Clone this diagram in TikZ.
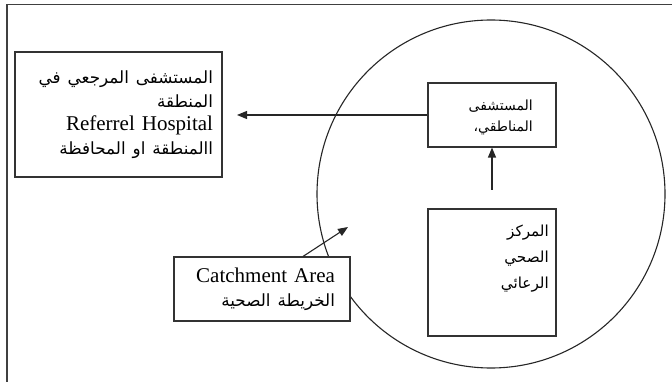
\documentclass[tikz,border=0pt]{standalone}
\usepackage{fontspec}
\setmainfont{Liberation Serif}
\newfontfamily\arabicfont[Script=Arabic,Scale=0.8]{DejaVu Sans}
\TeXXeTstate=1
\usetikzlibrary{arrows.meta}
\newcommand{\ar}[1]{{\arabicfont\beginR #1\endR}}

\begin{document}
\begin{tikzpicture}[x=1pt,y=-1pt,
	box/.style={draw=black!80,line width=1.1pt,fill=white,inner ysep=0pt,align=right},
	lbl/.style={anchor=north east,align=right,inner sep=0pt},
	arr/.style={draw=black!85,line width=1.1pt,-{Triangle[length=10pt,width=8pt]}}]
	\clip (0,0) rectangle (672,382);
	\draw[black!75,line width=1.2pt] (7,4.5) rectangle (700,400);
	\draw[black!85,line width=1.1pt] (491,194) circle[radius=174pt];

	% boxes
	\node[box,minimum width=207pt,minimum height=125pt,text width=189pt,inner xsep=9pt,font=\fontsize{21}{23.5}\selectfont] (referral) at (118.5,114.5)
		{\ar{المستشفى المرجعي في}\\ \ar{المنطقة}\\ Referrel Hospital\\ \ar{االمنطقة او المحافظة}};
	\node[box,minimum width=128pt,minimum height=64pt] (manatiqi) at (492,115) {};
	\node[lbl,font=\fontsize{17.5}{21}\selectfont] (manatiqitxt) at (533,100)
		{\ar{المستشفى}\\ \ar{المناطقي،}};
	\node[box,minimum width=128pt,minimum height=127pt] (markaz) at (492,272.5) {};
	\node[lbl,font=\fontsize{19}{26}\selectfont] (markaztxt) at (549,225)
		{\ar{المركز}\\ \ar{الصحي}\\ \ar{الرعائي}};
	\node[box,minimum width=176pt,minimum height=64pt,text width=146pt,inner xsep=15pt,font=\fontsize{21}{24}\selectfont] (catchment) at (262,289)
		{Catchment Area\\ \ar{الخريطة الصحية}};

	% arrows
	\coordinate (reftip) at (237,115);
	\coordinate (vtail) at (492,190);
	\coordinate (catchtip) at (348,227);
	\draw[arr] (manatiqi.west) -- (reftip);
	\draw[arr] (vtail) -- (manatiqi.south);
	\draw[arr] ([xshift=41pt]catchment.north) -- (catchtip);
\end{tikzpicture}
\end{document}
